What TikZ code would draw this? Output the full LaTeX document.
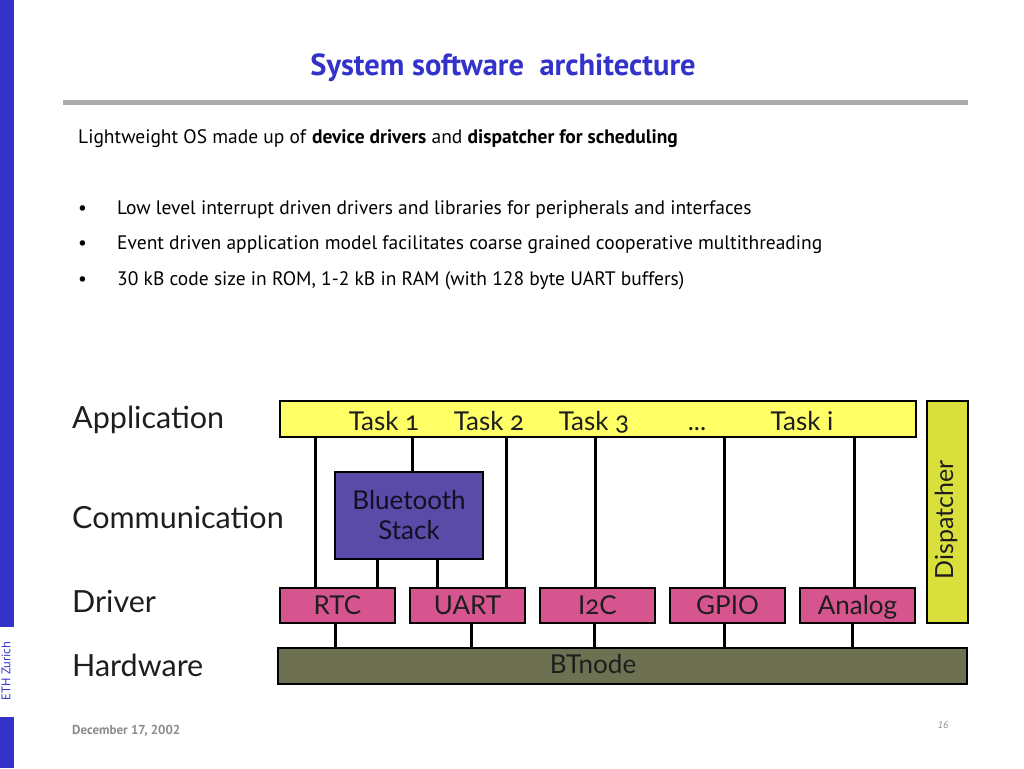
\documentclass[tikz,border=0pt]{standalone}
\usepackage{fontspec}
\setmainfont{PT Sans}
\newfontfamily\diafont[Numbers=OldStyle]{Lato}
\usepackage{tikz}
\usetikzlibrary{positioning}
\definecolor{slideblue}{HTML}{3333CC}
\definecolor{rulegray}{HTML}{ABABAB}
\definecolor{appyellow}{HTML}{FFFF66}
\definecolor{dispgreen}{HTML}{D9E03C}
\definecolor{btblue}{HTML}{5B4BA8}
\definecolor{drvpink}{HTML}{D6558F}
\definecolor{hwolive}{HTML}{6E7052}
\definecolor{foot}{HTML}{8C8C8C}
\definecolor{ink}{HTML}{1E1E1E}
\tikzset{
  box/.style={draw=black, line width=2.4pt, inner sep=0pt, text=ink,
    font=\diafont\fontsize{26}{30}\selectfont},
  drv/.style={box, fill=drvpink, minimum width=115pt, minimum height=35pt,
    text height=19pt, text depth=2pt},
  wire/.style={draw=black, line width=3pt},
  layer/.style={anchor=base west, inner sep=0pt, text=ink, font=\diafont\fontsize{30.5}{34}\selectfont},
  task/.style={anchor=base, inner sep=0pt, text=ink, font=\diafont\fontsize{26}{28}\selectfont},
  txt/.style={anchor=base west, inner sep=0pt, font=\fontsize{19.5}{22}\selectfont},
}
\begin{document}
\begin{tikzpicture}[x=1pt,y=-1pt]
  \useasboundingbox[fill=white] (0,0) rectangle (1024,768);
  % slide frame
  \fill[slideblue] (0,0) rectangle (14,627);
  \fill[slideblue] (0,717) rectangle (14,768);
  \node[rotate=90, text=slideblue, font=\fontsize{12.5}{14}\selectfont] (eth) at (6,671) {ETH Zurich};
  \node[text=slideblue, font=\bfseries\fontsize{30.5}{34}\selectfont] (title) at (503,68) {System software\ \ architecture};
  \fill[rulegray] (63,100) rectangle (968,105);
  % text
  \node[txt] (intro) at (78,143) {Lightweight OS made up of \textbf{device drivers} and \textbf{dispatcher for scheduling}};
  \foreach \y/\t in {214/Low level interrupt driven drivers and libraries for peripherals and interfaces,
                     249/Event driven application model facilitates coarse grained cooperative multithreading,
                     285/{30 kB code size in ROM, 1-2 kB in RAM (with 128 byte UART buffers)}} {
    \node[txt] at (78,\y) {\textbullet};
    \node[txt] at (117,\y) {\t};
  }
  % layer names
  \node[layer] (lapp) at (72,428) {Application};
  \node[layer] (lcom) at (72,528) {Communication};
  \node[layer] (ldrv) at (72,612) {Driver};
  \node[layer] (lhw) at (72,676) {Hardware};
  % boxes
  \node[box, fill=appyellow, minimum width=636pt, minimum height=36pt] (app) at (598,419) {};
  \node[box, fill=dispgreen, minimum width=41pt, minimum height=222pt] (disp) at (947.5,512) {};
  \node[box, rotate=90, draw=none, fill=none, font=\diafont\fontsize{25}{28}\selectfont] (disptxt) at (946,520) {Dispatcher};
  \node[box, fill=btblue, text=black!80!btblue, minimum width=148pt, minimum height=87pt, align=center] (bt) at (409,515.5) {Bluetooth\\Stack};
  \node[drv] (rtc) at (337.5,605.5) {RTC};
  \node[drv] (uart) at (467.5,605.5) {UART};
  \node[drv] (i2c) at (597.5,605.5) {I2C};
  \node[drv] (gpio) at (727.5,605.5) {GPIO};
  \node[drv] (analog) at (857.5,605.5) {Analog};
  \node[box, fill=hwolive, minimum width=689pt, minimum height=36pt] (hw) at (622.5,666) {};
  \node[box, draw=none, fill=none, anchor=base] (hwtxt) at (593,673) {BTnode};
  \foreach \x/\t in {384/Task 1,489/Task 2,594/Task 3,802/Task i}
    \node[task] at (\x,430) {\t};
  \node[task] (dots) at (697,430) {...};
  % wires
  \foreach \x/\n in {315/rtc,506/uart,595/i2c,724/gpio,854/analog}
    \draw[wire] (\x,0 |- app.south) -- (\x,0 |- \n.north);
  \draw[wire] (412,0 |- app.south) -- (412,0 |- bt.north);
  \foreach \x/\n in {377/rtc,437/uart}
    \draw[wire] (\x,0 |- bt.south) -- (\x,0 |- \n.north);
  \foreach \x/\n in {335/rtc,471/uart,594/i2c,724/gpio,852/analog}
    \draw[wire] (\x,0 |- \n.south) -- (\x,0 |- hw.north);
  % footer
  \node[anchor=west, inner sep=0pt, text=foot, font=\bfseries\fontsize{13}{15}\selectfont] (date) at (72,731) {December 17, 2002};
  \node[text=foot, font=\itshape\fontsize{10}{12}\selectfont] (page) at (943,725) {16};
\end{tikzpicture}
\end{document}
